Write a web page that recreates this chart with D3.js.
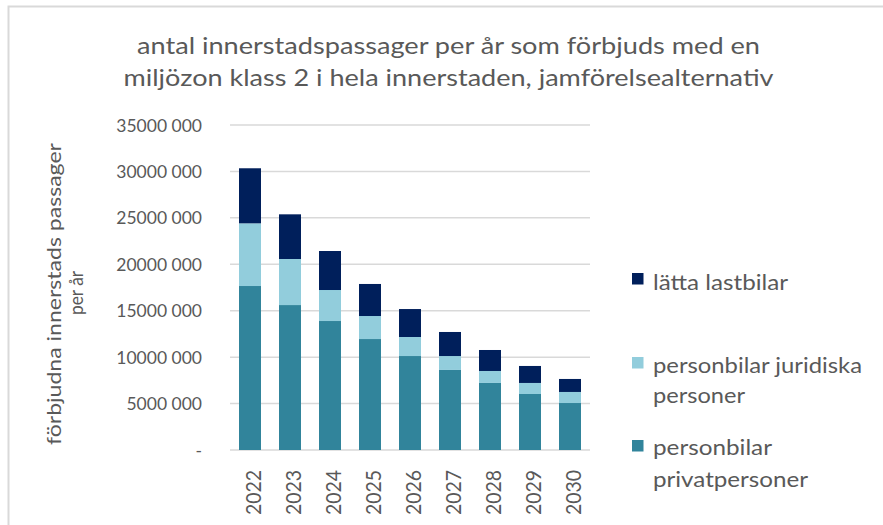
<!DOCTYPE html>
<html>
<head>
<meta charset="utf-8">
<script src="https://cdn.jsdelivr.net/npm/d3@7"></script>
<style>
  html, body { margin: 0; padding: 0; background: #ffffff; }
  svg { display: block; }
  text { font-family: Lato, "Open Sans", sans-serif; fill: #595959; }
</style>
</head>
<body>
<div id="chart"></div>
<script>
const years = ["2022", "2023", "2024", "2025", "2026", "2027", "2028", "2029", "2030"];
const privatpersoner = [17660000, 15610000, 13890000, 11950000, 10120000, 8620000, 7220000, 6030000, 5060000];
const juridiskaPersoner = [6750000, 4960000, 3340000, 2480000, 2050000, 1500000, 1290000, 1190000, 1190000];
const lattaLastbilar = [5930000, 4810000, 4200000, 3450000, 3010000, 2590000, 2260000, 1830000, 1400000];
const yTickValues = [0, 5000000, 10000000, 15000000, 20000000, 25000000, 30000000, 35000000];
const yTickLabels = ["-", "5000 000", "10000 000", "15000 000", "20000 000", "25000 000", "30000 000", "35000 000"];
const seriesNames = ["personbilar privatpersoner", "personbilar juridiska personer", "lätta lastbilar"];
const seriesColors = ["#31849B", "#92CDDC", "#001F5B"];
const titleLines = ["antal innerstadspassager per år som förbjuds med en", "miljözon klass 2 i hela innerstaden, jamförelsealternativ"];
const yLabelLines = ["förbjudna innerstads passager", "per år"];

const W = 883, H = 525;
const svg = d3.select("#chart").append("svg").attr("width", W).attr("height", H);

// outer frame
svg.append("rect").attr("x", 8.5).attr("y", 6.5).attr("width", W + 20).attr("height", H + 20)
  .attr("fill", "none").attr("stroke", "#d9d9d9").attr("stroke-width", 2);

const x = d3.scaleBand().domain(years).range([230, 590]).paddingInner(0.45).paddingOuter(0.225);
const y = d3.scaleLinear().domain([0, 35000000]).range([450, 125]);

// gridlines
svg.append("g").selectAll("line").data(yTickValues).join("line")
  .attr("x1", 230).attr("x2", 590)
  .attr("y1", d => y(d)).attr("y2", d => y(d))
  .attr("stroke", "#d9d9d9").attr("stroke-width", 1.5);

// y axis labels
const yAxis = d3.axisLeft(y).tickValues(yTickValues).tickFormat((d, i) => yTickLabels[i]).tickSize(0).tickPadding(0);
const gy = svg.append("g").attr("transform", "translate(202,0)").call(yAxis);
gy.select(".domain").remove();
gy.selectAll("text").attr("font-size", 17.5).attr("dy", "0.35em")
  .style("font-family", "Lato, sans-serif").attr("fill", "#595959");

// stacked data
const rows = years.map((yr, i) => ({
  year: yr,
  s0: privatpersoner[i],
  s1: juridiskaPersoner[i],
  s2: lattaLastbilar[i]
}));
const stack = d3.stack().keys(["s0", "s1", "s2"]);
const stacked = stack(rows);

svg.append("g").selectAll("g").data(stacked).join("g")
  .attr("fill", (d, i) => seriesColors[i])
  .selectAll("rect").data(d => d).join("rect")
  .attr("x", d => x(d.data.year))
  .attr("width", x.bandwidth())
  .attr("y", d => y(d[1]))
  .attr("height", d => y(d[0]) - y(d[1]));

// x axis labels (rotated)
const xAxis = d3.axisBottom(x).tickSize(0);
const gx = svg.append("g").attr("transform", "translate(0,450)").call(xAxis);
gx.select(".domain").remove();
gx.selectAll(".tick text")
  .attr("transform", "translate(11,20) rotate(-90)")
  .attr("text-anchor", "end")
  .attr("x", 0).attr("y", 0).attr("dy", 0)
  .attr("font-size", 21)
  .attr("textLength", 45).attr("lengthAdjust", "spacingAndGlyphs")
  .style("font-family", "Lato, sans-serif").attr("fill", "#595959");

// title
const titleBaselines = [54, 86];
const titleLengths = [623, 650];
svg.append("g").selectAll("text").data(titleLines).join("text")
  .attr("x", 448.5).attr("y", (d, i) => titleBaselines[i])
  .attr("text-anchor", "middle").attr("font-size", 23)
  .attr("textLength", (d, i) => titleLengths[i]).attr("lengthAdjust", "spacingAndGlyphs")
  .text(d => d);

// y axis title
svg.append("text").attr("transform", "translate(61,294) rotate(-90)")
  .attr("text-anchor", "middle").attr("font-size", 19)
  .attr("textLength", 302).attr("lengthAdjust", "spacingAndGlyphs")
  .text(yLabelLines[0]);
svg.append("text").attr("transform", "translate(83,293) rotate(-90)")
  .attr("text-anchor", "middle").attr("font-size", 19)
  .attr("textLength", 44).attr("lengthAdjust", "spacingAndGlyphs")
  .text(yLabelLines[1]);

// legend
const legendItems = [
  { color: seriesColors[2], lines: ["lätta lastbilar"], sq: 273, base: [290], len: [135] },
  { color: seriesColors[1], lines: ["personbilar juridiska", "personer"], sq: 357, base: [373, 403], len: [209, 92] },
  { color: seriesColors[0], lines: ["personbilar", "privatpersoner"], sq: 440, base: [455, 487], len: [119, 155] }
];
const lg = svg.append("g").selectAll("g").data(legendItems).join("g");
lg.append("rect").attr("x", 632).attr("y", d => d.sq).attr("width", 11.5).attr("height", 11.5).attr("fill", d => d.color);
lg.each(function(d) {
  const g = d3.select(this);
  d.lines.forEach((ln, i) => {
    g.append("text").attr("x", 653).attr("y", d.base[i]).attr("font-size", 21)
      .attr("textLength", d.len[i]).attr("lengthAdjust", "spacingAndGlyphs").text(ln);
  });
});
</script>
</body>
</html>
